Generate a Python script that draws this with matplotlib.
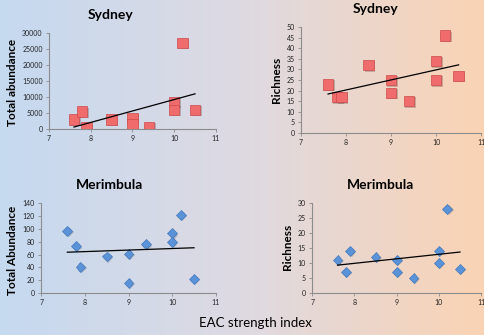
import numpy as np
import matplotlib.pyplot as plt
import matplotlib.patheffects as pe
from matplotlib.colors import LinearSegmentedColormap

# EAC strength index per sampling year (same for both sites)
eac = [7.6, 7.8, 7.9, 8.5, 9.0, 9.0, 9.4, 10.0, 10.0, 10.2, 10.5]

syd_abund = [3000, 5500, 400, 3000, 3500, 1500, 700, 8500, 6000, 27000, 6000]
syd_rich = [23, 17, 17, 32, 25, 19, 15, 34, 25, 46, 27]
mer_abund = [97, 73, 41, 57, 61, 16, 76, 93, 80, 122, 22]
mer_rich = [11, 7, 14, 12, 11, 7, 5, 14, 10, 28, 8]

plt.rcParams['font.family'] = ['Lato', 'DejaVu Sans']

fig = plt.figure(figsize=(4.84, 3.35), dpi=100)

# background gradient, blue on the left to peach on the right
bg = fig.add_axes([0, 0, 1, 1], zorder=-10)
cmap = LinearSegmentedColormap.from_list("bg", ["#c5d9f0", "#dedae2", "#fad3b4"])
bg.imshow(np.linspace(0, 1, 256)[None, :], aspect="auto", cmap=cmap, extent=[0, 1, 0, 1])
bg.axis("off")

shadow = [pe.SimplePatchShadow(offset=(1, -1), alpha=0.25), pe.Normal()]


def panel(rect, y, ylim, yticks, marker, color, edge, ms):
    ax = fig.add_axes(rect)
    ax.patch.set_alpha(0)
    ax.plot(eac, y, linestyle="none", marker=marker, ms=ms, mfc=color, mec=edge,
            mew=0.5, path_effects=shadow, zorder=3)
    k, b = np.polyfit(eac, y, 1)
    xs = np.array([min(eac), max(eac)])
    ax.plot(xs, k * xs + b, color="black", lw=0.9, zorder=4)
    ax.set_xlim(7, 11)
    ax.set_xticks([7, 8, 9, 10, 11])
    ax.set_ylim(*ylim)
    ax.set_yticks(yticks)
    for s in ["top", "right"]:
        ax.spines[s].set_visible(False)
    for s in ["left", "bottom"]:
        ax.spines[s].set_color("#8c8c8c")
        ax.spines[s].set_linewidth(0.8)
    ax.tick_params(labelsize=5, colors="#222222", length=2.5, width=0.6,
                   pad=2, direction="out")
    ax.tick_params(axis="both", color="#8c8c8c")
    return ax


red, red_e = "#f06c6c", "#cc4a4a"
blue, blue_e = "#5b93d8", "#4479bd"

panel([0.101, 0.615, 0.345, 0.286], syd_abund, (0, 30000),
      range(0, 30001, 5000), "s", red, red_e, 7.5)
panel([0.622, 0.603, 0.372, 0.316], syd_rich, (0, 50),
      range(0, 51, 5), "s", red, red_e, 7.5)
panel([0.085, 0.125, 0.361, 0.269], mer_abund, (0, 140),
      range(0, 141, 20), "D", blue, blue_e, 5)
panel([0.645, 0.125, 0.349, 0.269], mer_rich, (0, 30),
      range(0, 31, 5), "D", blue, blue_e, 5)

tkw = dict(fontsize=10, fontweight="bold", ha="center", va="center")
fig.text(0.229, 0.955, "Sydney", **tkw)
fig.text(0.775, 0.973, "Sydney", **tkw)
fig.text(0.227, 0.448, "Merimbula", **tkw)
fig.text(0.787, 0.448, "Merimbula", **tkw)

ykw = dict(fontsize=8.5, fontweight="bold", ha="center", va="center", rotation=90)
fig.text(0.025, 0.755, "Total abundance", **ykw)
fig.text(0.572, 0.761, "Richness", **ykw)
fig.text(0.025, 0.254, "Total Abundance", **ykw)
fig.text(0.593, 0.263, "Richness", **ykw)

fig.text(0.527, 0.036, "EAC strength index", fontsize=9.5, ha="center", va="center")

fig.savefig("out.png", dpi=100)
